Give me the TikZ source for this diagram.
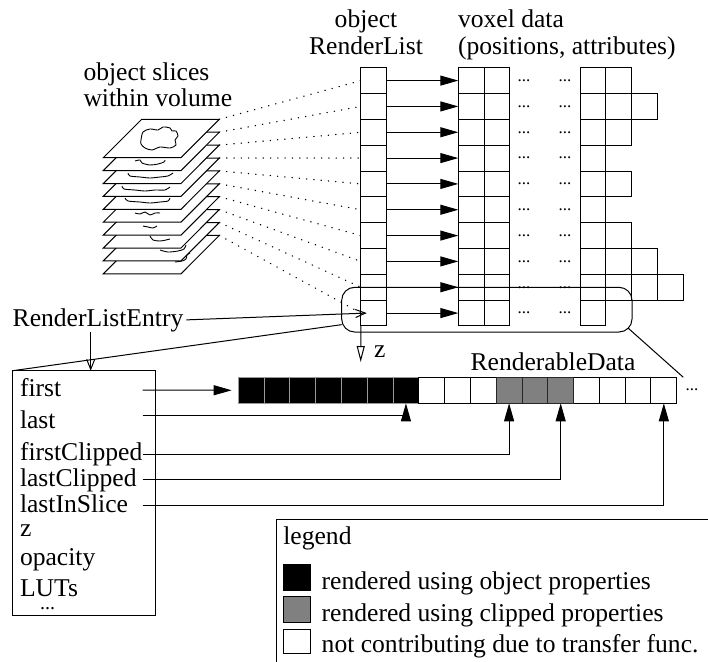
\documentclass[tikz,border=0pt]{standalone}
\usepackage{fontspec}
\setmainfont{Liberation Serif}
\usetikzlibrary{arrows.meta,calc}
% one slice sheet of the volume, #1 = index from the top
\newcommand\drawsheet[1]{%
  \filldraw[slicepl] (141.7,{119.3+12.9*#1}) -- ++(77.6,0) -- ++(-38.3,38.4) -- ++(-77.7,0) -- cycle;
  \coordinate (sl-#1) at (219.3,{119.3+12.9*#1});}
% two-line heading whose baseline is that of its first line
\newcommand\headlines[2]{\begin{tabular}[t]{@{}#1@{}}#2\end{tabular}}
\begin{document}
\begin{tikzpicture}[x=1pt,y=-1pt,line width=1pt,
  every node/.style={font=\fontsize{25.6}{26}\selectfont,inner sep=0pt,outer sep=0pt},
  cell/.style={draw,minimum width=25.8pt,minimum height=25.83pt},
  dcell/.style={draw,minimum width=25.79pt,minimum height=26pt},
  blackcell/.style={dcell,fill=black,draw=black!40},
  graycell/.style={dcell,fill=black!50,draw=black!85},
  whitecell/.style={dcell,fill=white},
  ellip/.style={font=\fontsize{17}{17}\selectfont},
  ptr/.style={-{Triangle[length=18pt,width=10pt]}},
  barb/.style={-{Straight Barb[length=10pt,width=8pt]}},
  zdir/.style={-{Triangle[open,length=16pt,width=8pt]}},
  dotline/.style={line cap=round,dash pattern=on 0.3pt off 7pt,line width=1.3pt},
  slicepl/.style={fill=white,line width=1pt},
  contour/.style={line width=0.9pt},
]
\useasboundingbox (0,0) rectangle (708,661);

% headings
\node[anchor=base west] (slicehdr) at (83.5,80) {\headlines{l}{object slices\\within volume}};
\node[anchor=base] (rlhdr) at (366,28) {\headlines{c}{object\\RenderList}};
\node[anchor=base west] (voxhdr) at (458,28) {\headlines{l}{voxel data\\(positions, attributes)}};

% stack of object slices, drawn from the bottom up
\drawsheet{9}
\draw[contour] plot[smooth] coordinates {(175,262) (182,261) (186,259) (187,255) (190,253)};
\drawsheet{8}
\draw[contour] plot[smooth] coordinates {(160,250) (168,252) (178,251) (184,249) (186,245)};
\drawsheet{7}
\draw[contour] plot[smooth] coordinates {(150,236) (153,240) (160,241) (166,240) (170,239)};
\drawsheet{6}
\draw[contour] plot[smooth] coordinates {(143,226) (148,227) (153,228) (157,226)};
\drawsheet{5}
\draw[contour] plot[smooth] coordinates {(135,213) (140,214) (145,212) (150,215) (155,213) (160,213)};
\drawsheet{4}
\draw[contour] plot[smooth] coordinates {(125,198) (128,201) (140,202) (150,203) (160,202) (168,201) (170,198)};
\drawsheet{3}
\draw[contour] plot[smooth] coordinates {(122,186) (124,189) (135,190) (145,191) (155,190) (165,190) (170,187)};
\drawsheet{2}
\draw[contour] plot[smooth] coordinates {(128,173) (130,176) (140,177) (150,178) (160,177) (168,176) (173,173)};
\drawsheet{1}
\draw[contour] plot[smooth] coordinates {(135,161) (140,160) (142,163) (150,165) (158,164) (164,162) (165,160)};
\drawsheet{0}
\draw[contour] plot[smooth cycle] coordinates {(141,140) (143,132) (150,129) (158,130) (163,127) (170,128) (172,131) (176,131) (178,136) (175,140) (176,145) (170,148) (160,147) (152,150) (145,148) (141,144)};

% render list, voxel rows and pointers
\foreach \k/\n in {0/2,1/3,2/2,3/1,4/2,5/1,6/2,7/3,8/4,9/1} {
  \pgfmathsetmacro\yy{80.6+25.83*\k}
  \node[cell] (rl-\k) at (373.7,\yy) {};
  \node[cell,minimum width=25.7pt] (va-\k-1) at (471.15,\yy) {};
  \node[cell,minimum width=25.7pt] (va-\k-2) at (496.85,\yy) {};
  \node[ellip] (dl-\k) at (524,\yy) {...};
  \node[ellip] (dr-\k) at (565,\yy) {...};
  \foreach \j in {1,...,\n} {
    \node[cell] (vb-\k-\j) at ({580+25.8*(\j-0.5)},\yy) {};
  }
  \draw[ptr] (rl-\k.east) -- (va-\k-1.west);
}

% sight lines from each slice to its list entry
\foreach \k in {0,...,9} {
  \draw[dotline] (sl-\k) -- (rl-\k.west);
}

% z direction
\coordinate (zend) at (360.7,362);
\draw[zdir] (rl-9.south west) -- (zend);
\node[anchor=base west] (zlab) at (374,357.5) {z};

% highlighted list entry
\node[draw,rounded corners=13pt,minimum width=290.3pt,minimum height=44.7pt] (zoomrect) at (486.85,309.65) {};

% renderable data strip
\foreach \i in {1,...,7} {
  \node[blackcell] (d-\i) at ({238.3+25.79*(\i-0.5)},390.3) {};
}
\foreach \i in {8,9,10,14,15,16,17} {
  \node[whitecell] (d-\i) at ({238.3+25.79*(\i-0.5)},390.3) {};
}
\foreach \i in {11,12,13} {
  \node[graycell] (d-\i) at ({238.3+25.79*(\i-0.5)},390.3) {};
}
\node[anchor=base] (rdlabel) at (553,370) {RenderableData};
\node[ellip] (stripmore) at (692,390) {...};

% render list entry structure
\node[anchor=base west] (rle) at (12.7,326) {RenderListEntry};
\node[draw,minimum width=142.3pt,minimum height=244.3pt] (entry) at (83.85,492.85) {};
\draw[barb] ([xshift=3pt]rle.east) -- ([xshift=6pt]rl-9.west);
\draw[barb] ([xshift=-7.3pt]rle.south) -- ([xshift=-7.3pt]rle.south |- entry.north);
\draw ([yshift=-15pt]zoomrect.west) -- (entry.north west);
\draw ([xshift=-3.8pt,yshift=3.8pt]zoomrect.south east) -- ([xshift=6.6pt]d-17.north east);

\node[anchor=base west] (f-first) at (20,396.7) {first};
\node[anchor=base west] (f-last) at (20,428) {last};
\node[anchor=base west] (f-fc) at (20,460) {firstClipped};
\node[anchor=base west] (f-lc) at (20,486.7) {lastClipped};
\node[anchor=base west] (f-lis) at (20,512.7) {lastInSlice};
\node[anchor=base west] (f-z) at (20,536.7) {z};
\node[anchor=base west] (f-op) at (20,565) {opacity};
\node[anchor=base west] (f-lut) at (20,596.7) {LUTs};
\node[font=\fontsize{20}{20}\selectfont] (f-more) at (47.7,609) {...};

\coordinate (s-first) at (142.7,390);
\coordinate (s-last) at (142.7,415.7);
\coordinate (s-fc) at (142.7,454);
\coordinate (s-lc) at (142.7,479.7);
\coordinate (s-lis) at (142.7,505.7);
\draw[ptr] (s-first) -- ([xshift=-6.6pt]d-1.west);
\draw[ptr] (s-last) -| (d-7.south);
\draw[ptr] (s-fc) -| (d-11.south);
\draw[ptr] (s-lc) -| (d-13.south);
\draw[ptr] (s-lis) -| (d-17.south);

% legend
\node[draw,anchor=north west,minimum width=460pt,minimum height=170pt] (legendbox) at (276.7,519) {};
\node[anchor=base west] (lgtitle) at (283.3,544) {legend};
\node[draw,fill=black,minimum width=26.7pt,minimum height=26pt] (lg-obj) at (296.7,577) {};
\node[draw,fill=black!50,minimum width=26.7pt,minimum height=26pt] (lg-clip) at (296.7,609.7) {};
\node[draw,fill=white,minimum width=26.7pt,minimum height=24.3pt] (lg-none) at (296.7,641.2) {};
\node[anchor=base west] (lgt-obj) at (321.7,589.3) {rendered using object properties};
\node[anchor=base west] (lgt-clip) at (321.7,621.7) {rendered using clipped properties};
\node[anchor=base west] (lgt-none) at (321.7,652.7) {not contributing due to transfer func.};
\end{tikzpicture}
\end{document}
